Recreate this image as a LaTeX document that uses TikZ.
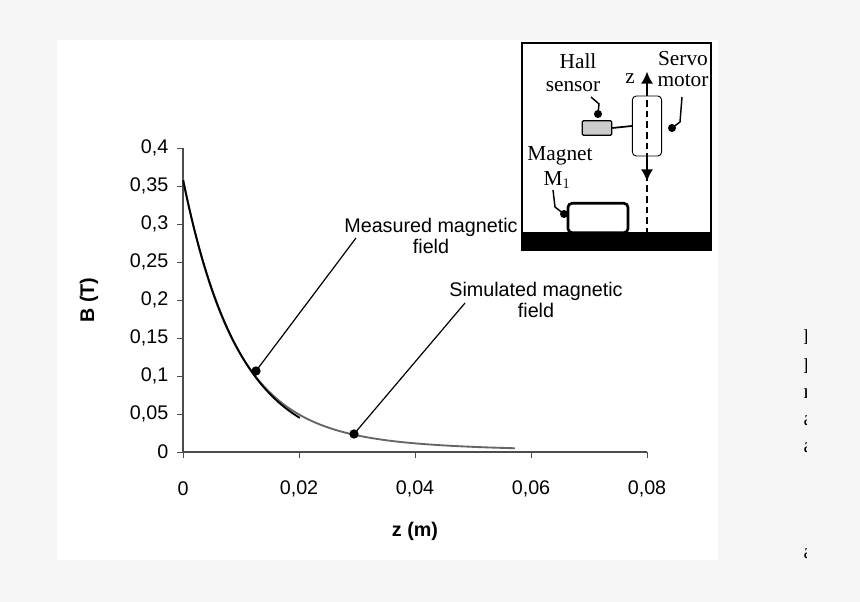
\documentclass[tikz,border=0pt]{standalone}
\usetikzlibrary{arrows.meta}
\usepackage{fontspec}
\setmainfont{Liberation Serif}
\newfontfamily\arial{Liberation Sans}
\begin{document}
\begin{tikzpicture}[x=0.75pt,y=-0.75pt,
  lab/.style={font=\arial\fontsize{14.8}{16}\selectfont},
  blab/.style={font=\arial\bfseries\fontsize{14.8}{16}\selectfont},
  ser/.style={font=\fontsize{16}{17}\selectfont},
  dotc/.style={fill,circle,inner sep=0pt,minimum size=7pt},
  dsh/.style={dash pattern=on 5pt off 3pt,line width=1.1pt},
  crv/.style={line width=1.4pt}]
\fill[black!4] (0,0) rectangle (860,602);
\fill[white] (57,40) rectangle (718,560);
\useasboundingbox (0,0) rectangle (860,602);
% axes
\draw[line width=1pt,black!70] (183,148) -- (183,452) -- (647,452);
\foreach \i/\t in {0/0,1/{0,05},2/{0,1},3/{0,15},4/{0,2},5/{0,25},6/{0,3},7/{0,35},8/{0,4}}{
  \draw[black!70] (177,452-38*\i) -- (183,452-38*\i);
  \node[lab,anchor=east] (y\i) at (173,452-38*\i) {\t};}
\foreach \i/\t in {0/0,1/{0,02},2/{0,04},3/{0,06},4/{0,08}}{
  \draw[black!70] (183+116*\i,452) -- (183+116*\i,458);
  \node[lab] (x\i) at (183+116*\i,489) {\t};}
\node[blab,rotate=90] (yl) at (89,300) {B (T)};
\node[blab] (xl) at (415,531) {z (m)};
% curves
\draw[crv,black!60,domain=0:0.0575,samples=150,smooth] plot ({183+\x*5800},{452-760*(0.33*exp(-\x/0.0088)+0.03*exp(-\x/0.03))});
\draw[crv,black,domain=0:0.0203,samples=60,smooth] plot ({183+\x*5800},{452-760*0.358*exp(-\x/0.0097)});
% annotations
\node[lab,align=center] (ml) at (431,236) {Measured magnetic\\field};
\node[lab,align=center] (sl) at (536,300) {Simulated magnetic\\field};
\node[dotc] (md) at (256,371) {};
\node[dotc] (sd) at (354,434) {};
\coordinate (ma) at (356,238);
\coordinate (sa) at (465,303);
\draw[line width=0.9pt] (ma) -- (md.center);
\draw[line width=0.9pt] (sa) -- (sd.center);
% inset
\draw[line width=1.8pt] (522,43) rectangle (711,250);
\fill (522,232) rectangle (711,250);
\draw[dsh] (647,100) -- (647,232);
\node[draw,line width=2pt,rounded corners=3pt,minimum width=45pt,minimum height=22pt,fill=white] (mag) at (598,218) {};
\node[draw,line width=0.7pt,rounded corners=3pt,minimum width=22pt,minimum height=45pt,fill=white] (servo) at (647,126) {};
\draw[dsh] (647,100) -- (647,156);
\node[draw,line width=0.9pt,fill=black!20,rounded corners=1pt,minimum width=22pt,minimum height=11pt,inner sep=0pt] (hall) at (597,128) {};
\draw[line width=1.3pt] (hall.east) -- (servo.west);
\draw[line width=1.4pt,-{Latex[length=9pt,width=9pt]}] (servo.north) -- ++(0,-24) coordinate (zt);
\draw[line width=1.4pt,-{Latex[length=9pt,width=9pt]}] (servo.south) -- ++(0,25) coordinate (zb);
\node[ser] (z) at (630,79) {z};
\node[ser] (h1) at (578,61) {Hall};
\node[ser] (h2) at (573,87) {sensor};
\node[ser] (s1) at (683,59) {Servo};
\node[ser] (s2) at (683,81) {motor};
\node[ser] (m1) at (560,156) {Magnet};
\node[ser] (m2) at (557,180) {M$_1$};
\node[dotc,minimum size=6pt] (hd) at (598,114) {};
\node[dotc,minimum size=6pt] (sdd) at (672,128) {};
\node[dotc,minimum size=6pt] (mdd) at (564,214) {};
\draw[line width=1.1pt] (hd.center) -- (599,104) -- (591,97);
\draw[line width=1.1pt] (sdd.center) -- (680,122) -- (682,97);
\draw[line width=1.1pt] (mdd.center) -- (555,207) -- (553,190);
% clipped text at right
\begin{scope}
\clip (790,300) rectangle (806,602);
\foreach \y/\t in {337/l,366/l,393/r,421/a,448/a,554/a}
  \node[ser,anchor=west] at (799,\y) {\t};
\end{scope}
\end{tikzpicture}
\end{document}
